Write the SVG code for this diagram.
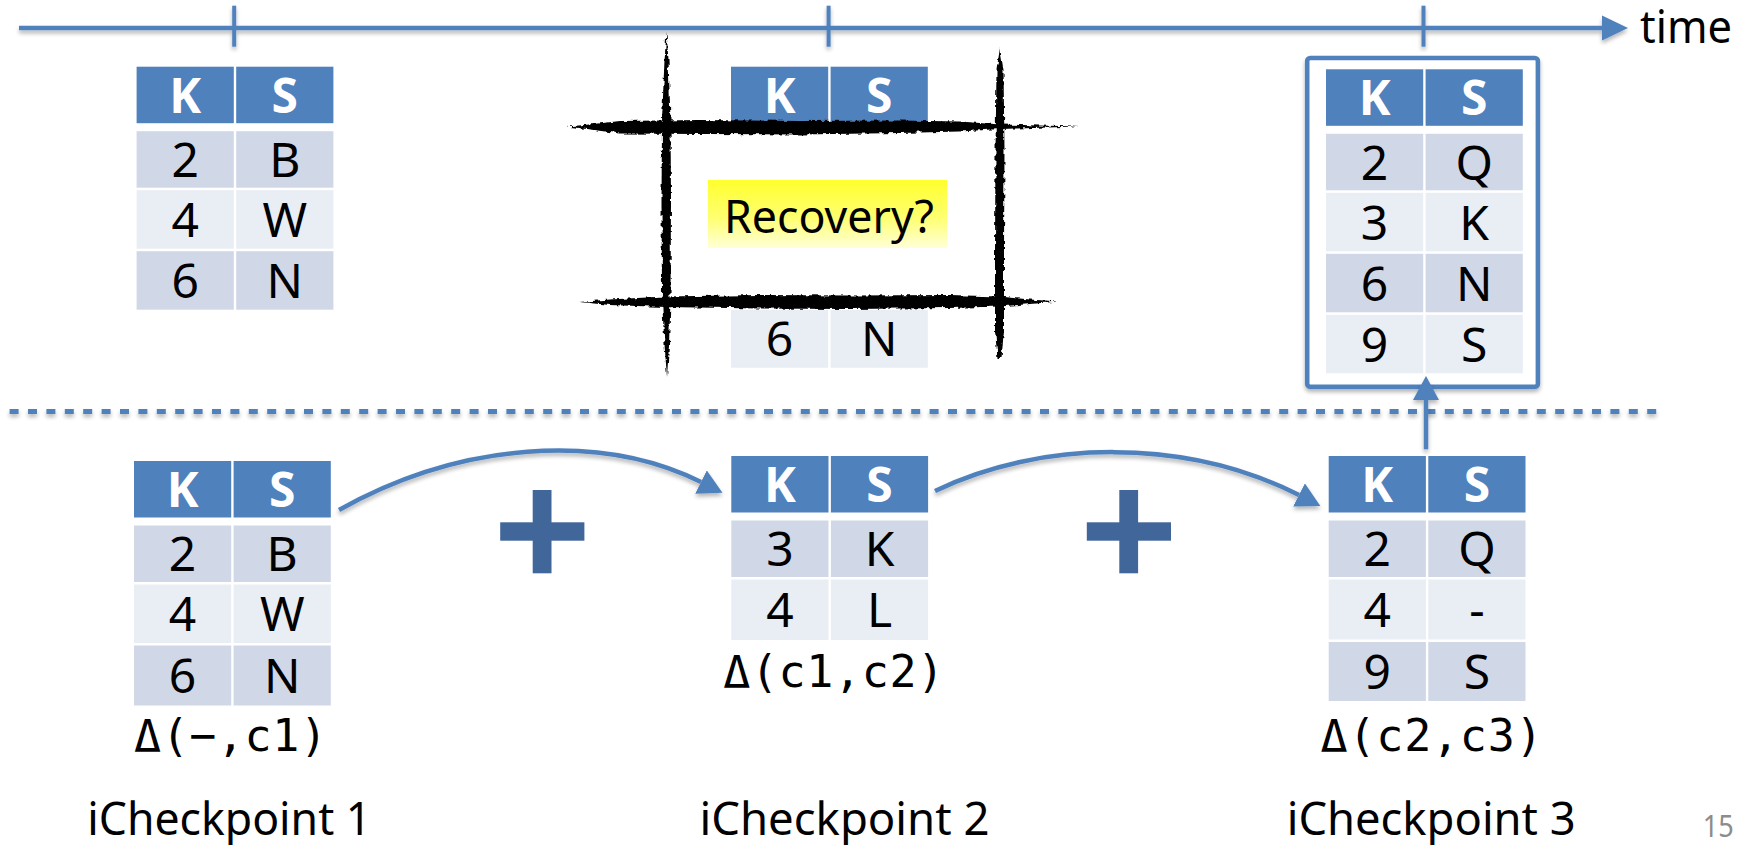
<svg xmlns="http://www.w3.org/2000/svg" width="1754" height="845" viewBox="0 0 1754 845">
  <defs>
    <style>
      .hdr { fill: #4F81BD; }
      .dk { fill: #D0D8E8; }
      .lt { fill: #E9EDF4; }
      .ht { font-family: "Noto Sans", "Open Sans", sans-serif; font-size: 48px; font-weight: bold; fill: #FFFFFF; text-anchor: middle; }
      .ct { font-family: "Noto Sans", "Open Sans", sans-serif; font-size: 48px; fill: #000000; text-anchor: middle; }
      .lbl { font-family: "Noto Sans", "Open Sans", sans-serif; font-size: 46px; fill: #000000; }
      .mono { font-family: "DejaVu Sans Mono", "Liberation Mono", monospace; font-size: 45px; fill: #000000; }
      .conn { fill: none; stroke: #4F81BD; stroke-width: 4.5; }
      .plus { fill: #41679A; }
      .ink { fill: #000000; }
    </style>
    <filter id="shadow" filterUnits="userSpaceOnUse" x="0" y="0" width="1754" height="845">
      <feGaussianBlur in="SourceAlpha" stdDeviation="2"/>
      <feOffset dx="0" dy="3" result="off"/>
      <feComponentTransfer><feFuncA type="linear" slope="0.3"/></feComponentTransfer>
      <feMerge><feMergeNode/><feMergeNode in="SourceGraphic"/></feMerge>
    </filter>
    <filter id="rough" filterUnits="userSpaceOnUse" x="0" y="0" width="1754" height="845">
      <feTurbulence type="fractalNoise" baseFrequency="0.18" numOctaves="2" seed="7" result="noise"/>
      <feDisplacementMap in="SourceGraphic" in2="noise" scale="5" xChannelSelector="R" yChannelSelector="G" result="d"/>
      <feGaussianBlur in="d" stdDeviation="0.7"/>
    </filter>
    <linearGradient id="hilite" x1="0" y1="0" x2="0" y2="1">
      <stop offset="0" stop-color="#FFFF2E"/>
      <stop offset="0.55" stop-color="#FFFF70"/>
      <stop offset="1" stop-color="#FFFFD8"/>
    </linearGradient>
    <marker id="head" markerUnits="userSpaceOnUse" markerWidth="26" markerHeight="26" refX="0" refY="13" orient="auto">
      <path d="M0,0 L24,13 L0,26 Z" fill="#4F81BD"/>
    </marker>
  </defs>

  <!-- time axis -->
  <g id="timeline" filter="url(#shadow)">
    <line x1="19" y1="28" x2="1604" y2="28" stroke="#4F81BD" stroke-width="4.5"/>
    <polygon points="1602,15.5 1628,28 1602,40.5" fill="#4F81BD"/>
    <rect x="232.2" y="5.7" width="4" height="41" fill="#4F81BD"/>
    <rect x="826.6" y="5.7" width="4" height="41" fill="#4F81BD"/>
    <rect x="1421.5" y="5.7" width="4" height="41" fill="#4F81BD"/>
  </g>
  <text id="time-label" class="lbl" x="1640" y="43.3" font-size="44" textLength="92" lengthAdjust="spacingAndGlyphs">time</text>

  <!-- separator between snapshots and increments -->
  <g id="separator" filter="url(#shadow)">
    <line x1="9.6" y1="411.5" x2="1662" y2="411.5" stroke="#4F81BD" stroke-width="5" stroke-dasharray="9 9.4"/>
  </g>

  <!-- snapshot at c1 -->
  <g id="state-c1">
    <rect class="hdr" x="136.6" y="66.7" width="97.2" height="56.5"/>
    <rect class="hdr" x="236.2" y="66.7" width="97.2" height="56.5"/>
    <text class="ht" x="185.2" y="112.7">K</text>
    <text class="ht" x="284.8" y="112.7">S</text>
    <rect class="dk" x="136.6" y="131.2" width="97.2" height="56.5"/>
    <rect class="dk" x="236.2" y="131.2" width="97.2" height="56.5"/>
    <text class="ct" x="185.2" y="177">2</text>
    <text class="ct" x="284.8" y="177">B</text>
    <rect class="lt" x="136.6" y="190.2" width="97.2" height="58.5"/>
    <rect class="lt" x="236.2" y="190.2" width="97.2" height="58.5"/>
    <text class="ct" x="185.2" y="237">4</text>
    <text class="ct" x="284.8" y="237">W</text>
    <rect class="dk" x="136.6" y="251.2" width="97.2" height="58.5"/>
    <rect class="dk" x="236.2" y="251.2" width="97.2" height="58.5"/>
    <text class="ct" x="185.2" y="298">6</text>
    <text class="ct" x="284.8" y="298">N</text>
  </g>

  <!-- lost snapshot at c2, crossed out -->
  <g id="state-c2">
    <rect class="hdr" x="731" y="66.7" width="97.2" height="56.5"/>
    <rect class="hdr" x="830.6" y="66.7" width="97.2" height="56.5"/>
    <text class="ht" x="779.6" y="112.7">K</text>
    <text class="ht" x="879.2" y="112.7">S</text>
    <rect class="lt" x="731" y="310" width="97.2" height="57.7"/>
    <rect class="lt" x="830.6" y="310" width="97.2" height="57.7"/>
    <text class="ct" x="779.6" y="356.3">6</text>
    <text class="ct" x="879.2" y="356.3">N</text>
    <rect x="666" y="126" width="334" height="176" fill="#FFFFFF"/>
    <g filter="url(#rough)">
      <path class="ink" d="M567,126.5 L590,124.5 L620,121 L700,120 L800,121 L900,120.5 L960,121.5 L1000,124.5 L1040,125.5 L1079,126.5 L1040,127.8 L1000,129 L960,131.5 L900,133 L800,134.5 L700,134 L620,133.5 L590,129.5 Z"/>
      <path class="ink" d="M580,302 L610,299.5 L665,296.5 L760,295 L850,295.5 L950,295 L1000,296.5 L1030,299.5 L1058,301.5 L1030,304 L1000,306.5 L950,308 L850,309 L760,308.5 L665,307 L610,305 Z"/>
      <path class="ink" d="M666.5,32 L668.5,60 L670.5,120 L671,200 L670.5,300 L669,345 L667,377 L664.5,345 L662,300 L661.5,200 L662,120 L664.5,60 Z"/>
      <path class="ink" d="M1000,48 L1003.5,70 L1004.5,150 L1004,250 L1004,330 L1001.5,358 L997.5,358 L995,330 L995,250 L995.5,150 L996.5,70 Z"/>
    </g>
    <rect x="708" y="180" width="239" height="68" fill="url(#hilite)"/>
    <text class="lbl" x="724" y="233.3" textLength="210" lengthAdjust="spacingAndGlyphs">Recovery?</text>
  </g>

  <!-- snapshot recovered at c3 -->
  <g id="state-c3">
    <rect x="1307.2" y="58" width="230.7" height="328.7" rx="3" fill="#FFFFFF" stroke="#4F81BD" stroke-width="4.6" filter="url(#shadow)"/>
    <rect class="hdr" x="1326" y="69.3" width="97.2" height="56.5"/>
    <rect class="hdr" x="1425.6" y="69.3" width="97.2" height="56.5"/>
    <text class="ht" x="1374.6" y="115.3">K</text>
    <text class="ht" x="1474.2" y="115.3">S</text>
    <rect class="dk" x="1326" y="133.8" width="97.2" height="56.5"/>
    <rect class="dk" x="1425.6" y="133.8" width="97.2" height="56.5"/>
    <text class="ct" x="1374.6" y="179.5">2</text>
    <text class="ct" x="1474.2" y="179.5">Q</text>
    <rect class="lt" x="1326" y="192.8" width="97.2" height="58.5"/>
    <rect class="lt" x="1425.6" y="192.8" width="97.2" height="58.5"/>
    <text class="ct" x="1374.6" y="239.5">3</text>
    <text class="ct" x="1474.2" y="239.5">K</text>
    <rect class="dk" x="1326" y="253.8" width="97.2" height="58.5"/>
    <rect class="dk" x="1425.6" y="253.8" width="97.2" height="58.5"/>
    <text class="ct" x="1374.6" y="300.5">6</text>
    <text class="ct" x="1474.2" y="300.5">N</text>
    <rect class="lt" x="1326" y="314.8" width="97.2" height="58.5"/>
    <rect class="lt" x="1425.6" y="314.8" width="97.2" height="58.5"/>
    <text class="ct" x="1374.6" y="361.5">9</text>
    <text class="ct" x="1474.2" y="361.5">S</text>
  </g>

  <!-- delta (-, c1) -->
  <g id="delta-1">
    <rect class="hdr" x="134" y="461" width="97.2" height="56.5"/>
    <rect class="hdr" x="233.6" y="461" width="97.2" height="56.5"/>
    <text class="ht" x="182.6" y="507">K</text>
    <text class="ht" x="282.2" y="507">S</text>
    <rect class="dk" x="134" y="525.5" width="97.2" height="56.5"/>
    <rect class="dk" x="233.6" y="525.5" width="97.2" height="56.5"/>
    <text class="ct" x="182.6" y="571.2">2</text>
    <text class="ct" x="282.2" y="571.2">B</text>
    <rect class="lt" x="134" y="584.5" width="97.2" height="58.5"/>
    <rect class="lt" x="233.6" y="584.5" width="97.2" height="58.5"/>
    <text class="ct" x="182.6" y="631.2">4</text>
    <text class="ct" x="282.2" y="631.2">W</text>
    <rect class="dk" x="134" y="645.5" width="97.2" height="60"/>
    <rect class="dk" x="233.6" y="645.5" width="97.2" height="60"/>
    <text class="ct" x="182.6" y="692.5">6</text>
    <text class="ct" x="282.2" y="692.5">N</text>
    <text class="mono" x="134" y="750.7" textLength="193" lengthAdjust="spacing">Δ(−,c1)</text>
    <text class="lbl" x="87.3" y="835" textLength="284" lengthAdjust="spacingAndGlyphs">iCheckpoint 1</text>
  </g>

  <!-- delta (c1, c2) -->
  <g id="delta-2">
    <rect class="hdr" x="731.3" y="456" width="97.2" height="56.5"/>
    <rect class="hdr" x="830.9" y="456" width="97.2" height="56.5"/>
    <text class="ht" x="779.9" y="502">K</text>
    <text class="ht" x="879.5" y="502">S</text>
    <rect class="dk" x="731.3" y="520.5" width="97.2" height="56.5"/>
    <rect class="dk" x="830.9" y="520.5" width="97.2" height="56.5"/>
    <text class="ct" x="779.9" y="566.2">3</text>
    <text class="ct" x="879.5" y="566.2">K</text>
    <rect class="lt" x="731.3" y="579.5" width="97.2" height="60.5"/>
    <rect class="lt" x="830.9" y="579.5" width="97.2" height="60.5"/>
    <text class="ct" x="779.9" y="627">4</text>
    <text class="ct" x="879.5" y="627">L</text>
    <text class="mono" x="723.2" y="686.7" textLength="221" lengthAdjust="spacing">Δ(c1,c2)</text>
    <text class="lbl" x="699.5" y="835" textLength="290" lengthAdjust="spacingAndGlyphs">iCheckpoint 2</text>
  </g>

  <!-- delta (c2, c3) -->
  <g id="delta-3">
    <rect class="hdr" x="1328.7" y="456" width="97.2" height="56.5"/>
    <rect class="hdr" x="1428.3" y="456" width="97.2" height="56.5"/>
    <text class="ht" x="1377.3" y="502">K</text>
    <text class="ht" x="1476.9" y="502">S</text>
    <rect class="dk" x="1328.7" y="520.5" width="97.2" height="56.5"/>
    <rect class="dk" x="1428.3" y="520.5" width="97.2" height="56.5"/>
    <text class="ct" x="1377.3" y="566.2">2</text>
    <text class="ct" x="1476.9" y="566.2">Q</text>
    <rect class="lt" x="1328.7" y="579.5" width="97.2" height="60"/>
    <rect class="lt" x="1428.3" y="579.5" width="97.2" height="60"/>
    <text class="ct" x="1377.3" y="626.5">4</text>
    <text class="ct" x="1476.9" y="626.5">-</text>
    <rect class="dk" x="1328.7" y="642" width="97.2" height="59"/>
    <rect class="dk" x="1428.3" y="642" width="97.2" height="59"/>
    <text class="ct" x="1377.3" y="689">9</text>
    <text class="ct" x="1476.9" y="689">S</text>
    <text class="mono" x="1320.6" y="750.7" textLength="222" lengthAdjust="spacing">Δ(c2,c3)</text>
    <text class="lbl" x="1286.7" y="835" textLength="289" lengthAdjust="spacingAndGlyphs">iCheckpoint 3</text>
  </g>

  <!-- merge operators -->
  <g id="plus-1" class="plus">
    <rect x="532.7" y="490" width="18.8" height="83.3"/>
    <rect x="500.2" y="522.3" width="84.2" height="18.4"/>
  </g>
  <g id="plus-2" class="plus">
    <rect x="1119.3" y="490" width="18.8" height="83.3"/>
    <rect x="1086.8" y="522.3" width="84.2" height="18.4"/>
  </g>

  <!-- connectors -->
  <g id="connectors" filter="url(#shadow)">
    <path class="conn" d="M339,510 C460,442 600,432 701,482" marker-end="url(#head)"/>
    <path class="conn" d="M935,491 C1040,440 1185,437 1299,495" marker-end="url(#head)"/>
    <path class="conn" d="M1426,449.3 L1426,400" marker-end="url(#head)"/>
  </g>

  <text id="page-number" x="1702.8" y="837" font-family="Noto Sans, Open Sans, sans-serif" font-size="30" fill="#8C8C8C" textLength="31" lengthAdjust="spacingAndGlyphs">15</text>
</svg>
